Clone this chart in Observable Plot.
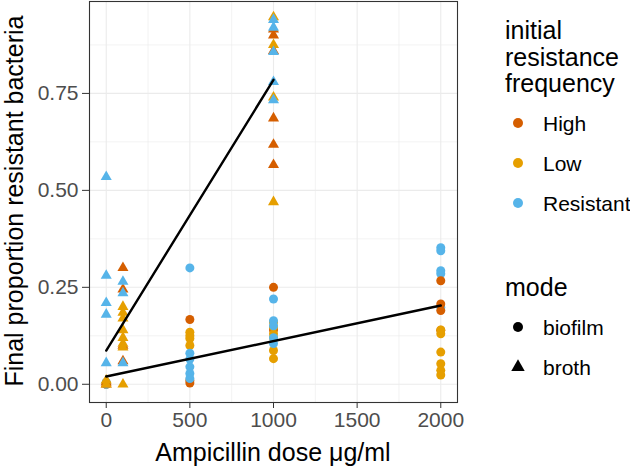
<!DOCTYPE html>
<html><head><meta charset="utf-8">
<script src="https://cdn.jsdelivr.net/npm/d3@7"></script>
<script src="https://cdn.jsdelivr.net/npm/@observablehq/plot@0.6"></script>
<style>
body{margin:0;background:#fff;}
#wrap{position:relative;width:630px;height:469px;overflow:hidden;font-family:"Liberation Sans",Arial,Helvetica,sans-serif;}
#wrap svg{position:absolute;left:0;top:0;}
</style></head><body><div id="wrap"></div>
<script>
// ---- data ----
const frequencyLevels = ["High", "Low", "Resistant"];
const frequencyColors = ["#D55E00", "#E69F00", "#56B4E9"];
const modeLevels = ["biofilm", "broth"];
const modeSymbols = ["circle", "triangle"];
const xTicks = [0, 500, 1000, 1500, 2000];
const yTicks = [0, 0.25, 0.5, 0.75];
const xMinor = [250, 750, 1250, 1750];
const yMinor = [0.125, 0.375, 0.625, 0.875];

// broth (triangles)
const brothDose = [
  0, 0, 0, 0, 0, 0, 0, 0, 0,
  100, 100, 100, 100, 100, 100, 100, 100, 100, 100, 100, 100, 100, 100, 100,
  1000, 1000, 1000, 1000, 1000, 1000, 1000, 1000, 1000, 1000, 1000, 1000, 1000, 1000, 1000
];
const brothValue = [
  0.535, 0.28, 0.21, 0.18, 0.055, 0.0, 0.005, 0.0, 0.01,
  0.30, 0.245, 0.10, 0.06, 0.20, 0.185, 0.17, 0.14, 0.12, 0.105, 0.095, 0.265, 0.235, 0.055, 0.0,
  0.915, 0.90, 0.86, 0.686, 0.618, 0.566, 0.947, 0.875, 0.74, 0.47, 0.94, 0.92, 0.857, 0.78, 0.733
];
const brothFreq = [
  "Resistant", "Resistant", "Resistant", "Resistant", "Resistant", "High", "High", "Low", "Low",
  "High", "High", "High", "High", "Low", "Low", "Low", "Low", "Low", "Low", "Low", "Resistant", "Resistant", "Resistant", "Low",
  "High", "High", "High", "High", "High", "High", "Low", "Low", "Low", "Low", "Resistant", "Resistant", "Resistant", "Resistant", "Resistant"
];

// biofilm (circles)
const biofilmDose = [
  0, 0, 0, 0, 0, 0,
  500, 500, 500, 500, 500, 500, 500, 500, 500, 500, 500, 500, 500,
  1000, 1000, 1000, 1000, 1000, 1000, 1000, 1000, 1000, 1000, 1000, 1000, 1000,
  2000, 2000, 2000, 2000, 2000, 2000, 2000, 2000, 2000, 2000, 2000, 2000, 2000, 2000, 2000
];
const biofilmValue = [
  0.0, 0.004, 0.0, 0.003, 0.0, 0.005,
  0.167, 0.01, 0.003, 0.134, 0.118, 0.125, 0.10, 0.30, 0.08, 0.065, 0.045, 0.028, 0.015,
  0.25, 0.14, 0.16, 0.148, 0.13, 0.12, 0.087, 0.066, 0.22, 0.164, 0.151, 0.12, 0.105,
  0.352, 0.344, 0.293, 0.285, 0.198, 0.267, 0.207, 0.19, 0.139, 0.13, 0.14, 0.083, 0.053, 0.036, 0.024
];
const biofilmFreq = [
  "High", "High", "Low", "Low", "Resistant", "Resistant",
  "High", "High", "High", "Low", "Low", "Low", "Low", "Resistant", "Resistant", "Resistant", "Resistant", "Resistant", "Resistant",
  "High", "High", "Low", "Low", "Low", "Low", "Low", "Low", "Resistant", "Resistant", "Resistant", "Resistant", "Resistant",
  "Resistant", "Resistant", "Resistant", "Resistant", "Resistant", "High", "High", "High", "High", "Low", "Low", "Low", "Low", "Low", "Low"
];

// fitted lines
const fitMode = ["broth", "broth", "biofilm", "biofilm"];
const fitDose = [0, 1000, 0, 2000];
const fitValue = [0.087, 0.785, 0.02, 0.203];

// ---- build tables ----
const biofilmRows = biofilmDose.map((d, i) => ({dose: d, value: biofilmValue[i], freq: biofilmFreq[i], mode: "biofilm"}));
const brothRows = brothDose.map((d, i) => ({dose: d, value: brothValue[i], freq: brothFreq[i], mode: "broth"}));
const fits = fitDose.map((d, i) => ({dose: d, value: fitValue[i], mode: fitMode[i]}));

const W = 630, H = 469;
const FONT = "Liberation Sans, Arial, Helvetica, sans-serif";

const chart = Plot.plot({
  width: W, height: H,
  marginLeft: 89, marginRight: 173, marginTop: 1, marginBottom: 67,
  style: {fontFamily: FONT, background: "white"},
  x: {domain: [-100, 2100]},
  y: {domain: [-0.047, 0.987]},
  color: {domain: frequencyLevels, range: frequencyColors},
  symbol: {domain: modeLevels, range: modeSymbols},
  marks: [
    Plot.ruleX(xMinor, {stroke: "#EBEBEB", strokeWidth: 0.6}),
    Plot.ruleY(yMinor, {stroke: "#EBEBEB", strokeWidth: 0.6}),
    Plot.ruleX(xTicks, {stroke: "#EBEBEB", strokeWidth: 1.1}),
    Plot.ruleY(yTicks, {stroke: "#EBEBEB", strokeWidth: 1.1}),
    Plot.dot(biofilmRows, {x: "dose", y: "value", fill: "freq", symbol: "mode", r: 4.5, stroke: "none"}),
    Plot.dot(brothRows, {x: "dose", y: "value", fill: "freq", symbol: "mode", r: 4.1, stroke: "none"}),
    Plot.line(fits, {x: "dose", y: "value", z: "mode", stroke: "black", strokeWidth: 2.4}),
    Plot.frame({stroke: "#333333", strokeWidth: 1.1}),
    Plot.axisX({ticks: xTicks, tickFormat: d3.format("d"), tickSize: 6, tickPadding: 4, fontSize: 21, stroke: "#333333", fill: "#4D4D4D", label: null}),
    Plot.axisY({ticks: yTicks, tickFormat: d3.format(".2f"), tickSize: 7, tickPadding: 4, fontSize: 21, stroke: "#333333", fill: "#4D4D4D", label: null})
  ]
});
const wrap = document.getElementById("wrap");
wrap.appendChild(chart);

// ---- titles and legend overlay ----
const svg = d3.select(wrap).append("svg").attr("width", W).attr("height", H)
  .style("font-family", FONT);
svg.append("text").attr("transform", "translate(14,201) rotate(-90)")
  .attr("text-anchor", "middle").attr("dominant-baseline", "central")
  .attr("font-size", 25).attr("fill", "black").text("Final proportion resistant bacteria");
svg.append("text").attr("x", 273).attr("y", 452)
  .attr("text-anchor", "middle").attr("dominant-baseline", "central")
  .attr("font-size", 25).attr("fill", "black").text("Ampicillin dose μg/ml");

const freqTitle = ["initial", "resistance", "frequency"];
const freqTitleY = [30, 57, 83];
freqTitle.forEach((t, i) => svg.append("text").attr("x", 505).attr("y", freqTitleY[i])
  .attr("dominant-baseline", "central").attr("font-size", 25).attr("fill", "black").text(t));
const keyY = [123, 163, 203];
frequencyLevels.forEach((f, i) => {
  svg.append("circle").attr("cx", 518).attr("cy", keyY[i]).attr("r", 5).attr("fill", frequencyColors[i]);
  svg.append("text").attr("x", 543).attr("y", keyY[i]).attr("dominant-baseline", "central")
    .attr("font-size", 21).attr("fill", "black").text(f);
});
svg.append("text").attr("x", 505).attr("y", 287).attr("dominant-baseline", "central")
  .attr("font-size", 25).attr("fill", "black").text("mode");
const modeY = [327, 367];
modeLevels.forEach((m, i) => {
  const sym = d3.symbol(modeSymbols[i] === "circle" ? d3.symbolCircle : d3.symbolTriangle, Math.PI * 25);
  svg.append("path").attr("d", sym()).attr("transform", `translate(518,${modeY[i]})`).attr("fill", "black");
  svg.append("text").attr("x", 543).attr("y", modeY[i]).attr("dominant-baseline", "central")
    .attr("font-size", 21).attr("fill", "black").text(m);
});
</script>
</body></html>
